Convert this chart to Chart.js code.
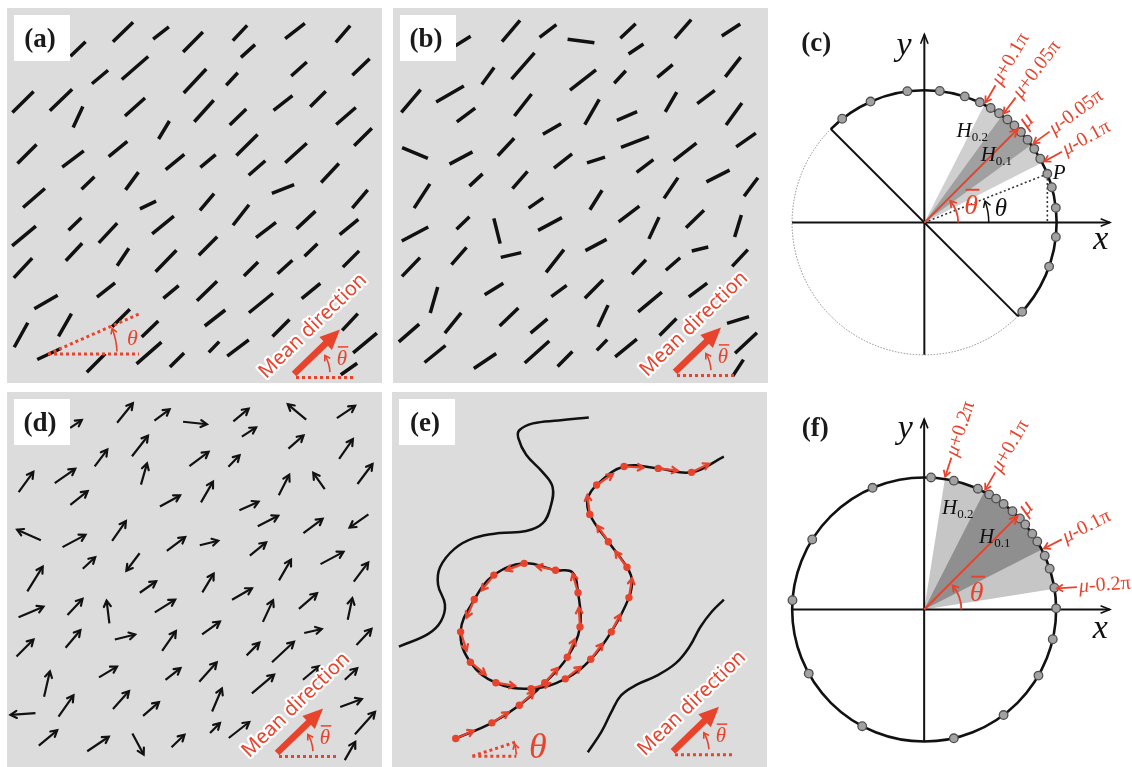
<!DOCTYPE html>
<html>
<head>
<meta charset="utf-8">
<title>Directional data</title>
<script src="https://cdn.jsdelivr.net/npm/chart.js@4.4.1/dist/chart.umd.min.js"></script>
<style>
  body { margin: 0; background: #fff; }
  #wrap { position: relative; width: 1132px; height: 767px; overflow: hidden; }
  #wrap canvas { position: absolute; }
</style>
</head>
<body>
<div id="wrap">
  <canvas id="panelA" width="375" height="375" style="left:7px;top:8px"></canvas>
  <canvas id="panelB" width="375" height="375" style="left:393px;top:8px"></canvas>
  <canvas id="panelC" width="362" height="385" style="left:770px;top:0px"></canvas>
  <canvas id="panelD" width="375" height="375" style="left:7px;top:392px"></canvas>
  <canvas id="panelE" width="375" height="375" style="left:392px;top:392px"></canvas>
  <canvas id="panelF" width="362" height="382" style="left:770px;top:385px"></canvas>
</div>
<script>
// rods / arrows: [x, y, angle in degrees, length], panel units 0..375, y upwards
const rodsA = [
  [71,334,44,21],[116,351,44,28],[154,350,38,20],[186,341,45,28],[233,350,47,21],[241,332,42,19],[288,352,38,25],[336,349,49,22],
  [93,306,40,21],[128,315,41,35],[188,302,47,33],[225,304,47,17],[292,314,42,21],[354,316,44,24],
  [16,281,45,30],[54,283,44,31],[71,266,65,23],[128,276,42,27],[197,272,48,29],[231,266,44,23],[276,280,38,24],[311,284,45,22],[339,267,41,26],
  [157,253,59,21],[20,229,45,27],[66,224,37,27],[111,234,39,24],[240,238,45,30],[289,230,42,29],[356,246,45,25],
  [168,221,39,24],[201,222,40,20],[250,215,41,22],[323,210,47,26],[81,200,44,18],[125,202,54,22],[27,185,41,29],[276,194,22,24],
  [141,178,26,18],[200,181,50,22],[353,184,50,24],[234,168,52,26],[17,147,40,31],[68,159,44,18],[101,150,47,27],[156,158,39,28],
  [259,153,37,25],[299,163,43,26],[342,156,39,24],[67,131,47,24],[116,126,56,21],[201,137,45,26],[304,133,44,18],
  [16,115,47,27],[159,122,46,30],[244,114,45,20],[278,116,42,20],[344,124,45,23],
  [99,93,38,23],[164,91,40,20],[200,92,44,28],[39,81,30,27],[254,80,39,31],[304,92,39,24],
  [14,48,61,28],[58,58,60,26],[114,65,45,25],[143,54,44,23],[208,65,38,26],[274,55,45,24],[343,61,47,23],
  [42,29,25,26],[142,30,41,33],[207,36,46,15],[231,35,37,27],[358,40,40,31],[89,20,45,26],[170,23,45,20],[342,14,35,20]
];
const rodsB = [
  [70,342,32,18],[118,352,50,28],[155,352,37,21],[188,342,-7,27],[235,352,43,21],[243,334,34,18],[290,354,49,25],[338,353,33,22],
  [95,307,54,21],[130,317,49,35],[190,303,38,33],[227,306,47,17],[272,312,40,20],[340,316,52,25],
  [18,282,50,30],[57,289,30,32],[73,268,37,23],[130,278,52,28],[199,271,60,29],[234,267,23,22],[278,281,60,23],[313,286,37,22],[341,269,54,27],
  [159,254,30,21],[22,230,-23,28],[68,225,28,26],[113,236,47,24],[242,241,21,30],[292,231,38,29],[353,243,35,24],
  [170,222,38,23],[203,223,18,19],[252,217,37,21],[325,207,27,26],[83,203,43,18],[127,203,49,23],[29,187,57,29],[278,195,56,25],[358,196,53,23],
  [143,180,35,18],[203,183,58,23],[236,169,37,26],[22,149,28,30],[70,160,44,18],[104,152,104,26],[157,159,28,27],[261,155,65,24],[302,164,44,25],[345,157,73,23],
  [118,128,13,21],[203,138,28,24],[307,134,14,17],[18,116,46,26],[66,127,49,23],[162,122,52,29],[246,116,46,20],[280,119,41,19],[347,125,47,23],
  [41,83,74,27],[101,94,32,22],[166,92,36,19],[201,94,45,26],[257,81,40,31],[305,93,37,23],
  [16,50,41,27],[60,60,51,26],[116,66,44,26],[146,57,40,22],[210,67,65,24],[275,56,45,24],[345,63,17,23],
  [42,29,39,27],[92,22,34,27],[144,31,42,33],[172,24,45,21],[209,38,46,15],[233,35,39,28],[353,40,43,30],[345,15,57,20]
];
const arrowsD = [
  [69,343,34,14],[118,354,51,25],[155,352,37,19],[188,344,-6,24],[234,352,40,20],[242,335,33,17],[290,355,140,24],[339,355,34,22],
  [94,309,53,21],[133,321,52,26],[192,308,37,24],[227,306,46,16],[289,325,41,20],[339,318,55,24],
  [19,285,54,25],[58,291,35,25],[137,293,74,22],[72,269,38,22],[163,266,29,23],[200,275,60,24],[242,261,24,21],[277,282,63,23],[312,286,125,20],[358,293,53,25],
  [22,232,156,26],[67,226,28,26],[112,236,55,24],[261,246,27,23],[306,241,37,24],[352,246,215,23],
  [169,223,37,23],[202,224,14,19],[251,218,39,21],[325,209,28,26],[82,204,43,17],[126,205,233,22],[28,188,58,29],[278,197,60,24],[354,195,53,24],
  [141,180,35,20],[201,184,59,22],[235,173,30,23],[24,155,23,27],[68,160,47,22],[101,155,97,23],[158,161,32,24],[261,156,65,24],[301,166,41,24],[343,158,78,22],
  [118,130,14,21],[204,139,36,22],[306,136,13,18],[18,119,45,24],[66,128,50,23],[162,126,55,24],[246,118,45,18],[276,115,43,30],[357,130,47,22],
  [40,83,77,26],[101,95,31,21],[166,93,38,19],[201,95,48,26],[256,83,40,29],[304,94,40,21],[344,93,43,17],
  [16,53,184,25],[59,61,55,26],[114,67,48,24],[144,58,41,21],[210,67,67,25],[344,64,20,23],
  [41,29,40,24],[91,23,34,26],[131,23,298,24],[171,26,44,18],[208,39,45,14],[232,37,38,26],[358,44,48,30],[343,16,60,21]
];
// panel (e): contour lines and the sampled track [x, y, sampled?]
const contourE1 = [[197,353],[166,350],[140,347],[126,340],[125,332],[133,315],[150,297],[160,282],[158,262],[150,245],[133,237],[106,235],[80,230],[60,219],[45,200],[43,182],[50,162],[46,145],[33,132],[3,119]];
const contourE2 = [[335,167],[323,155],[311,139],[300,119],[286,102],[266,89],[246,80],[230,69],[220,52],[210,32],[196,11]];
const trackE = [
  [61,25,1],[98,41,1],[126,59,1],[152,82,1],[175,108,1],[188,139,1],[186,174,1],[180,195,0],[163,197,1],[131,204,1],
  [100,192,1],[80,167,1],[66,134,1],[76,103,1],[102,82,1],[138,76,1],[173,86,1],[199,106,1],[220,134,1],[238,169,1],
  [241,187,0],[236,200,1],[217,226,1],[198,254,1],[196,270,0],[205,284,1],[233,303,1],[268,301,1],[302,297,1],[335,313,0]
];
// panels (c) and (f): sample directions on the unit circle (degrees)
const dotsC = [128.4, 114, 97.4, 83.3, 72.2, 65.2, 59.9, 55.6, 51.1, 47.1, 43.1, 38.7, 33.8, 28.8, 21.6, 15.5, 6.4, -6.2, -19.4, -42.3];
const dotsF = [87, 77, 66, 60.5, 57, 53, 48, 43.5, 40, 35, 31, 24, 18, 9.5, 0.5, -13, -30, -53, -77, 242, 209, 176, 148, 113];
const muC = 45, muF = 45;
const bandsC = [0.1, 0.05];   // half widths, in units of pi
const bandsF = [0.2, 0.1];
const angleP = 21.6;

const RED = '#e8432c';
const SERIF = '"Liberation Serif", "Times New Roman", serif';
const rad = d => d * Math.PI / 180;

function rodPoints(list) {
  const pts = [];
  list.forEach(([x, y, a, l]) => {
    const dx = Math.cos(rad(a)) * l / 2, dy = Math.sin(rad(a)) * l / 2;
    pts.push({x: x - dx, y: y - dy}, {x: x + dx, y: y + dy}, {x: x, y: null});
  });
  return pts;
}

function trackArrows(track, len) {
  const pts = [];
  track.forEach((p, i) => {
    if (!p[2] || i + 1 >= track.length) return;
    const q = track[i + 1];
    const d = Math.hypot(q[0] - p[0], q[1] - p[1]);
    pts.push({x: p[0], y: p[1]}, {x: p[0] + (q[0] - p[0]) / d * len, y: p[1] + (q[1] - p[1]) / d * len}, {x: p[0], y: null});
  });
  return pts;
}

function chevron(ctx, x, y, ang, size, spread) {
  ctx.beginPath();
  ctx.moveTo(x - size * Math.cos(ang - spread), y - size * Math.sin(ang - spread));
  ctx.lineTo(x, y);
  ctx.lineTo(x - size * Math.cos(ang + spread), y - size * Math.sin(ang + spread));
  ctx.stroke();
}

function arcArrow(ctx, cx, cy, r, a0, a1, color, lw, head) {
  ctx.save();
  ctx.strokeStyle = color;
  ctx.lineWidth = lw;
  ctx.setLineDash([]);
  ctx.beginPath();
  ctx.arc(cx, cy, r, -rad(a1), -rad(a0));
  ctx.stroke();
  const t = rad(a1);
  chevron(ctx, cx + r * Math.cos(t), cy - r * Math.sin(t), Math.atan2(-Math.cos(t), -Math.sin(t)), head, rad(32));
  ctx.restore();
}

function thetaBar(ctx, x, y, size, color) {
  ctx.save();
  ctx.fillStyle = color;
  ctx.strokeStyle = color;
  ctx.font = 'italic ' + size + 'px ' + SERIF;
  ctx.textAlign = 'center';
  ctx.textBaseline = 'middle';
  ctx.fillText('θ', x, y);
  ctx.lineWidth = Math.max(1.3, size * 0.07);
  ctx.beginPath();
  ctx.moveTo(x - size * 0.2, y - size * 0.6);
  ctx.lineTo(x + size * 0.3, y - size * 0.6);
  ctx.stroke();
  ctx.restore();
}

function drawMean(ctx, x0, y0) {
  ctx.save();
  ctx.translate(x0, y0);
  ctx.strokeStyle = RED;
  ctx.lineWidth = 3;
  ctx.setLineDash([3, 3]);
  ctx.beginPath(); ctx.moveTo(2, 3.5); ctx.lineTo(61, 3.5); ctx.stroke();
  ctx.setLineDash([]);
  arcArrow(ctx, 0, 0, 36, 3, 31, RED, 1.6, 6);
  ctx.save();
  ctx.translate(19, -48);
  ctx.rotate(-rad(44));
  ctx.font = '20px "Noto Sans", sans-serif';
  ctx.textAlign = 'center';
  ctx.textBaseline = 'middle';
  ctx.lineJoin = 'round';
  ctx.lineWidth = 4.5;
  ctx.strokeStyle = '#fff';
  ctx.strokeText('Mean direction', 0, 0);
  ctx.fillStyle = RED;
  ctx.fillText('Mean direction', 0, 0);
  ctx.restore();
  ctx.save();
  ctx.rotate(-rad(44));
  ctx.fillStyle = RED;
  ctx.fillRect(0, -3.3, 47, 6.6);
  ctx.beginPath(); ctx.moveTo(44, -9); ctx.lineTo(64, 0); ctx.lineTo(44, 9); ctx.closePath(); ctx.fill();
  ctx.restore();
  thetaBar(ctx, 48, -14.5, 21, RED);
  ctx.restore();
}

function drawThetaDemo(ctx, xs, ys, t) {
  const x0 = xs.getPixelForValue(t.o[0]), y0 = ys.getPixelForValue(t.o[1]);
  ctx.save();
  ctx.strokeStyle = RED;
  ctx.lineWidth = 3;
  ctx.setLineDash([3, 3]);
  ctx.beginPath();
  ctx.moveTo(x0, y0); ctx.lineTo(x0 + t.len, y0);
  ctx.moveTo(x0, y0); ctx.lineTo(x0 + t.len, y0 - t.len * Math.tan(rad(t.ang)));
  ctx.stroke();
  ctx.setLineDash([]);
  arcArrow(ctx, x0, y0, t.arc, 2, t.ang - 2, RED, 1.6, 6);
  ctx.fillStyle = RED;
  ctx.font = 'italic ' + t.size + 'px ' + SERIF;
  ctx.textAlign = 'center';
  ctx.textBaseline = 'middle';
  ctx.fillText('θ', xs.getPixelForValue(t.label[0]), ys.getPixelForValue(t.label[1]));
  ctx.restore();
}

const fieldPlugin = {
  id: 'field',
  beforeDraw(chart) {
    const ctx = chart.ctx;
    ctx.save();
    ctx.fillStyle = '#dcdcdc';
    ctx.fillRect(0, 0, chart.width, chart.height);
    ctx.restore();
  },
  afterDatasetsDraw(chart) {
    const ctx = chart.ctx;
    chart.data.datasets.forEach((ds, i) => {
      if (!ds.headSize) return;
      const pts = chart.getDatasetMeta(i).data;
      ctx.save();
      ctx.strokeStyle = ds.borderColor;
      ctx.lineWidth = ds.borderWidth;
      ctx.lineCap = 'round';
      for (let k = 0; k + 1 < pts.length; k += 3) {
        const a = pts[k], b = pts[k + 1];
        chevron(ctx, b.x, b.y, Math.atan2(b.y - a.y, b.x - a.x), ds.headSize, rad(30));
      }
      ctx.restore();
    });
  },
  afterDraw(chart, args, o) {
    const ctx = chart.ctx, xs = chart.scales.x, ys = chart.scales.y;
    if (o.theta) drawThetaDemo(ctx, xs, ys, o.theta);
    drawMean(ctx, xs.getPixelForValue(o.mean[0]), ys.getPixelForValue(o.mean[1]));
    ctx.save();
    ctx.fillStyle = '#fff';
    ctx.fillRect(7, 7, 56, 46);
    ctx.fillStyle = '#1a1a1a';
    ctx.font = 'bold 27px ' + SERIF;
    ctx.textAlign = 'center';
    ctx.textBaseline = 'middle';
    ctx.fillText(o.tag, 33, 32);
    ctx.restore();
  }
};

function fieldChart(id, datasets, opts) {
  return new Chart(document.getElementById(id), {
    type: 'scatter',
    data: { datasets },
    options: {
      responsive: false,
      animation: false,
      events: [],
      layout: { padding: 0 },
      scales: {
        x: { type: 'linear', min: 0, max: 375, display: false },
        y: { type: 'linear', min: 0, max: 375, display: false }
      },
      plugins: { legend: { display: false }, tooltip: { enabled: false }, field: opts }
    },
    plugins: [fieldPlugin]
  });
}

const lineStyle = { showLine: true, pointRadius: 0, borderColor: '#111', spanGaps: false, borderCapStyle: 'butt' };

fieldChart('panelA', [
  Object.assign({ data: rodPoints(rodsA), borderWidth: 3.5 }, lineStyle)
], { tag: '(a)', mean: [287, 9], theta: { o: [41, 29], len: 91, ang: 23.7, arc: 69, label: [125.5, 44], size: 22 } });

fieldChart('panelB', [
  Object.assign({ data: rodPoints(rodsB), borderWidth: 3.5 }, lineStyle)
], { tag: '(b)', mean: [282, 11] });

fieldChart('panelD', [
  Object.assign({ data: rodPoints(arrowsD), borderWidth: 2.2, headSize: 7 }, lineStyle)
], { tag: '(d)', mean: [270, 14] });

fieldChart('panelE', [
  { data: trackE.filter(p => p[2]).map(p => ({x: p[0], y: p[1]})), pointRadius: 3.7, backgroundColor: RED, borderWidth: 0 },
  Object.assign({}, lineStyle, { data: trackArrows(trackE, 20), borderWidth: 2.3, borderColor: RED, headSize: 6.5 }),
  Object.assign({}, lineStyle, { data: trackE.map(p => ({x: p[0], y: p[1]})), borderWidth: 2.5, tension: 0.4 }),
  Object.assign({}, lineStyle, { data: contourE1.map(p => ({x: p[0], y: p[1]})), borderWidth: 2.5, tension: 0.4 }),
  Object.assign({}, lineStyle, { data: contourE2.map(p => ({x: p[0], y: p[1]})), borderWidth: 2.5, tension: 0.4 })
], { tag: '(e)', mean: [283, 12], theta: { o: [78, 7], len: 44, ang: 18, arc: 44, label: [145, 14.5], size: 36 } });

// ---- circle panels ----
function geom(chart) {
  const xs = chart.scales.x, ys = chart.scales.y;
  const cx = xs.getPixelForValue(0), cy = ys.getPixelForValue(0);
  return { cx, cy, r: xs.getPixelForValue(1) - cx, px: v => xs.getPixelForValue(v), py: v => ys.getPixelForValue(v) };
}

function italicText(ctx, str, x, y, size, color, align) {
  ctx.fillStyle = color;
  ctx.font = 'italic ' + size + 'px ' + SERIF;
  ctx.textAlign = align || 'center';
  ctx.textBaseline = 'middle';
  ctx.fillText(str, x, y);
}

const circlePlugin = {
  id: 'circ',
  beforeDatasetsDraw(chart, args, o) {
    const ctx = chart.ctx;
    const { cx, cy, r, px, py } = geom(chart);
    ctx.save();
    o.bands.forEach((b, i) => {
      const t1 = rad(o.mu - b * 180), t2 = rad(o.mu + b * 180);
      ctx.fillStyle = o.shades[i];
      ctx.beginPath(); ctx.moveTo(cx, cy); ctx.arc(cx, cy, r, -t2, -t1); ctx.closePath(); ctx.fill();
    });
    ctx.lineCap = 'butt';
    if (o.half) {
      ctx.strokeStyle = '#8c8c8c'; ctx.lineWidth = 1; ctx.setLineDash([1.5, 1.5]);
      ctx.beginPath(); ctx.arc(cx, cy, r, -rad(o.mu + 270), -rad(o.mu + 90)); ctx.stroke();
      ctx.setLineDash([]);
      ctx.strokeStyle = '#111'; ctx.lineWidth = 2.6;
      ctx.beginPath(); ctx.arc(cx, cy, r, -rad(o.mu + 90), -rad(o.mu - 90)); ctx.stroke();
      const t = rad(o.mu + 90);
      ctx.lineWidth = 2;
      ctx.beginPath();
      ctx.moveTo(cx + r * Math.cos(t), cy - r * Math.sin(t));
      ctx.lineTo(cx - r * Math.cos(t), cy + r * Math.sin(t));
      ctx.stroke();
    } else {
      ctx.strokeStyle = '#111'; ctx.lineWidth = 2.6;
      ctx.beginPath(); ctx.arc(cx, cy, r, 0, 2 * Math.PI); ctx.stroke();
    }
    // axes
    const xe = px(o.xEnd), ye = py(o.yEnd);
    ctx.strokeStyle = '#111'; ctx.lineWidth = 2;
    ctx.beginPath(); ctx.moveTo(cx - r, cy); ctx.lineTo(xe, cy); ctx.moveTo(cx, cy + r); ctx.lineTo(cx, ye); ctx.stroke();
    ctx.lineWidth = 1.6;
    chevron(ctx, xe, cy, 0, 10, rad(22));
    chevron(ctx, cx, ye, -Math.PI / 2, 10, rad(22));
    // sample point P and its angle
    if (o.P !== undefined) {
      const t = rad(o.P), x1 = cx + r * Math.cos(t), y1 = cy - r * Math.sin(t);
      ctx.strokeStyle = '#333'; ctx.lineWidth = 1.6; ctx.setLineDash([2, 2.5]);
      ctx.beginPath(); ctx.moveTo(cx, cy); ctx.lineTo(x1, y1); ctx.moveTo(x1, y1); ctx.lineTo(x1, cy); ctx.stroke();
      ctx.setLineDash([]);
      arcArrow(ctx, cx, cy, o.thetaArc * r, 0, o.P - 2, '#111', 1.5, 7);
      italicText(ctx, 'θ', px(o.thetaLabel[0]), py(o.thetaLabel[1]), 25, '#111');
      italicText(ctx, 'P', px(o.pLabel[0]), py(o.pLabel[1]), 21, '#111');
    }
    ctx.restore();
  },
  afterDatasetsDraw(chart, args, o) {
    const ctx = chart.ctx;
    const { cx, cy, r, px, py } = geom(chart);
    ctx.save();
    // mean direction
    const m = rad(o.mu);
    const mx = cx + r * Math.cos(m), my = cy - r * Math.sin(m);
    ctx.strokeStyle = RED; ctx.lineWidth = 2;
    ctx.beginPath(); ctx.moveTo(cx, cy); ctx.lineTo(mx, my); ctx.stroke();
    chevron(ctx, mx, my, -m, 9, rad(25));
    arcArrow(ctx, cx, cy, o.barArc * r, 0, o.mu - 5, RED, 1.8, 7);
    thetaBar(ctx, px(o.barLabel[0]), py(o.barLabel[1]), 28, RED);
    // mu label
    ctx.save();
    ctx.translate(cx + (r + 6) * Math.cos(m), cy - (r + 6) * Math.sin(m));
    ctx.rotate(-m);
    italicText(ctx, 'μ', 0, 0, 23, RED, 'left');
    ctx.restore();
    // band edge tags
    const tags = o.bands.map(b => ({ a: o.mu + b * 180, s: '+' + b }))
      .concat(o.bands.slice().reverse().map(b => ({ a: o.mu - b * 180, s: '-' + b })));
    tags.forEach((tg, i) => {
      const a = rad(tg.a), rot = rad(o.tagRot[i]);
      const tx = cx + (r + 2.5) * Math.cos(a), ty = cy - (r + 2.5) * Math.sin(a);
      const dx = Math.cos(rot), dy = -Math.sin(rot);
      ctx.strokeStyle = RED; ctx.lineWidth = 1.8;
      ctx.beginPath(); ctx.moveTo(tx + 20 * dx, ty + 20 * dy); ctx.lineTo(tx, ty); ctx.stroke();
      chevron(ctx, tx, ty, Math.atan2(-dy, -dx), 7, rad(30));
      ctx.save();
      ctx.translate(tx + 22 * dx, ty + 22 * dy);
      ctx.rotate(-rot);
      italicText(ctx, 'μ', 0, 0, 20, RED, 'left');
      const w = ctx.measureText('μ').width;
      ctx.font = '20px ' + SERIF;
      ctx.fillText(tg.s + 'π', w, 0);
      ctx.restore();
    });
    // H labels
    o.hPos.forEach((p, i) => {
      const x = px(p[0]), y = py(p[1]);
      ctx.fillStyle = '#111';
      ctx.font = 'italic 21px ' + SERIF;
      ctx.textAlign = 'left'; ctx.textBaseline = 'alphabetic';
      ctx.fillText('H', x, y);
      const w = ctx.measureText('H').width;
      ctx.font = '13px ' + SERIF;
      ctx.fillText(o.hText[i], x + w, y + 4);
    });
    italicText(ctx, 'x', px(o.xLabel[0]), py(o.xLabel[1]), 34, '#111');
    italicText(ctx, 'y', px(o.yLabel[0]), py(o.yLabel[1]), 34, '#111');
    ctx.fillStyle = '#1a1a1a';
    ctx.font = 'bold 27px ' + SERIF;
    ctx.textAlign = 'center'; ctx.textBaseline = 'middle';
    ctx.fillText(o.tag, px(o.tagPos[0]), py(o.tagPos[1]));
    ctx.restore();
  }
};

function circleChart(id, cx, cy, r, dots, opts) {
  const el = document.getElementById(id);
  const w = el.width, h = el.height;
  return new Chart(el, {
    type: 'scatter',
    data: {
      datasets: [{
        data: dots.map(a => ({ x: Math.cos(rad(a)), y: Math.sin(rad(a)) })),
        pointRadius: 4.3,
        backgroundColor: '#a2a2a2',
        borderColor: '#4f4f4f',
        borderWidth: 1.3
      }]
    },
    options: {
      responsive: false,
      animation: false,
      events: [],
      layout: { padding: 0 },
      scales: {
        x: { type: 'linear', min: -cx / r, max: (w - cx) / r, display: false },
        y: { type: 'linear', min: -(h - cy) / r, max: cy / r, display: false }
      },
      plugins: { legend: { display: false }, tooltip: { enabled: false }, circ: opts }
    },
    plugins: [circlePlugin]
  });
}

circleChart('panelC', 153.5, 223.5, 136.5, dotsC, {
  mu: muC, bands: bandsC, shades: ['#cfcfcf', '#a0a0a0'], half: true, P: angleP,
  tagRot: [60, 53, 36, 29], hPos: [[0.243, 0.648], [0.426, 0.465]], hText: ['0.2', '0.1'],
  barArc: 0.256, barLabel: [0.353, 0.121], thetaArc: 0.487, thetaLabel: [0.579, 0.101], pLabel: [1.02, 0.374],
  xLabel: [1.333, -0.132], yLabel: [-0.154, 1.33], tag: '(c)', tagPos: [-0.817, 1.344], xEnd: 1.403, yEnd: 1.42
});

circleChart('panelF', 153.3, 225.5, 136.2, dotsF, {
  mu: muF, bands: bandsF, shades: ['#c6c6c6', '#8f8f8f'], half: false,
  tagRot: [72, 60, 27, 4], hPos: [[0.135, 0.725], [0.416, 0.505]], hText: ['0.2', '0.1'],
  barArc: 0.282, barLabel: [0.398, 0.121],
  xLabel: [1.334, -0.151], yLabel: [-0.142, 1.362], tag: '(f)', tagPos: [-0.825, 1.362], xEnd: 1.407, yEnd: 1.44
});
</script>
</body>
</html>
